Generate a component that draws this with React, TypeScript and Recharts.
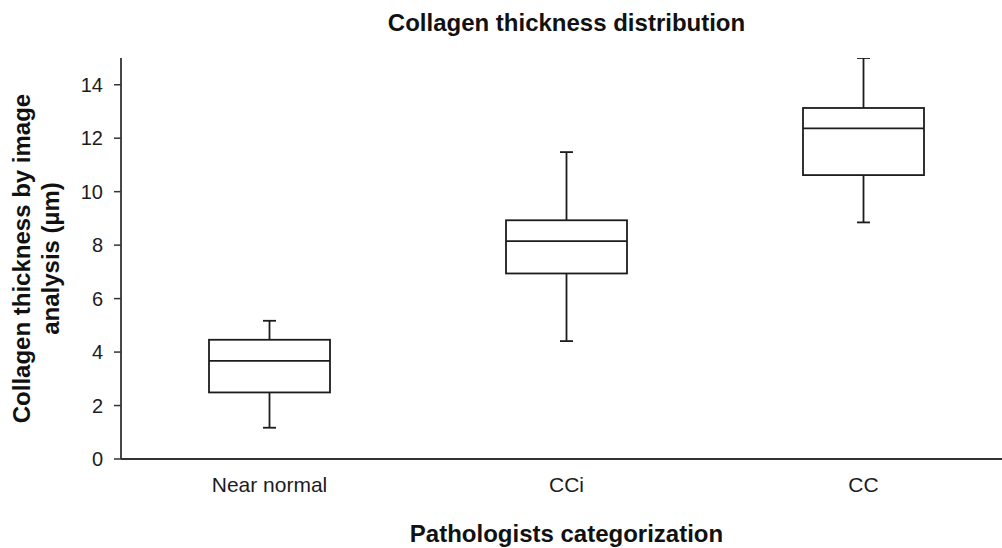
import { ComposedChart, Bar, XAxis, YAxis, Label } from "recharts";

const categories = ["Near normal", "CCi", "CC"];
const whiskerLow = [1.17, 4.41, 8.85];
const quartile1 = [2.49, 6.94, 10.62];
const medians = [3.67, 8.15, 12.37];
const quartile3 = [4.46, 8.93, 13.13];
const whiskerHigh = [5.17, 11.48, 15.0];
const yTicks = [0, 2, 4, 6, 8, 10, 12, 14];

const FONT = "'Liberation Sans', Arial, Helvetica, sans-serif";
const INK = "#1c1c1c";

const data = categories.map((name, i) => ({
  name,
  low: whiskerLow[i],
  q1: quartile1[i],
  median: medians[i],
  q3: quartile3[i],
  high: whiskerHigh[i],
  range: [whiskerLow[i], whiskerHigh[i]],
}));

function BoxShape(props: any) {
  const { x, y, width, height, payload } = props;
  const { low, high, q1, median, q3 } = payload;
  const top = Math.min(y, y + height);
  const bottom = Math.max(y, y + height);
  const span = bottom - top;
  // map a value onto the bar's own pixel range (low..high)
  const toY = (v: number) => bottom - ((v - low) / (high - low)) * span;
  const cx = x + width / 2;
  const cap = 6.5;
  const line = { stroke: INK, strokeWidth: 1.8 };
  return (
    <g>
      <line x1={cx} x2={cx} y1={toY(high)} y2={toY(q3)} {...line} />
      <line x1={cx} x2={cx} y1={toY(q1)} y2={toY(low)} {...line} />
      <line x1={cx - cap} x2={cx + cap} y1={toY(high)} y2={toY(high)} {...line} />
      <line x1={cx - cap} x2={cx + cap} y1={toY(low)} y2={toY(low)} {...line} />
      <rect
        x={x}
        y={toY(q3)}
        width={width}
        height={toY(q1) - toY(q3)}
        fill="#fff"
        {...line}
      />
      <line x1={x} x2={x + width} y1={toY(median)} y2={toY(median)} {...line} />
    </g>
  );
}

function YTitle(props: any) {
  const vb = props.viewBox || { y: 58, height: 401 };
  const cy = vb.y + vb.height / 2;
  const style = { fontFamily: FONT, fontSize: 24, fontWeight: 700, fill: "#111" };
  return (
    <g>
      <text x={30} y={cy} textAnchor="middle" transform={`rotate(-90, 30, ${cy})`} style={style}>
        Collagen thickness by image
      </text>
      <text x={59} y={cy} textAnchor="middle" transform={`rotate(-90, 59, ${cy})`} style={style}>
        analysis (µm)
      </text>
    </g>
  );
}

function XTitle(props: any) {
  const vb = props.viewBox || { x: 121, width: 891 };
  return (
    <text
      x={vb.x + vb.width / 2}
      y={542}
      textAnchor="middle"
      style={{ fontFamily: FONT, fontSize: 24, fontWeight: 700, fill: "#111" }}
    >
      Pathologists categorization
    </text>
  );
}

export default function App() {
  return (
    <div
      style={{
        position: "absolute",
        left: 0,
        top: 0,
        width: 1002,
        height: 548,
        overflow: "hidden",
        background: "#fff",
      }}
    >
      <div
        style={{
          position: "absolute",
          left: 121,
          top: 11,
          width: 891,
          textAlign: "center",
          fontFamily: FONT,
          fontSize: 24,
          fontWeight: 700,
          lineHeight: "24px",
          color: "#111",
        }}
      >
        Collagen thickness distribution
      </div>
      <ComposedChart
        width={1012}
        height={548}
        data={data}
        margin={{ top: 58, right: 0, bottom: 0, left: 0 }}
      >
        <XAxis
          dataKey="name"
          type="category"
          height={89}
          tickLine={false}
          tickSize={0}
          tickMargin={18}
          axisLine={{ stroke: "#333", strokeWidth: 1.8 }}
          tick={{ fill: INK, fontSize: 21, fontFamily: FONT }}
          interval={0}
        >
          <Label content={<XTitle />} />
        </XAxis>
        <YAxis
          type="number"
          domain={[0, 15]}
          ticks={yTicks}
          width={121}
          tickSize={7}
          tickMargin={11}
          interval={0}
          allowDataOverflow
          axisLine={{ stroke: "#333", strokeWidth: 1.8 }}
          tickLine={{ stroke: "#333", strokeWidth: 1.5 }}
          tick={{ fill: INK, fontSize: 20, fontFamily: FONT }}
        >
          <Label content={<YTitle />} />
        </YAxis>
        <Bar
          dataKey="range"
          barSize={121}
          shape={<BoxShape />}
          isAnimationActive={false}
        />
      </ComposedChart>
    </div>
  );
}
